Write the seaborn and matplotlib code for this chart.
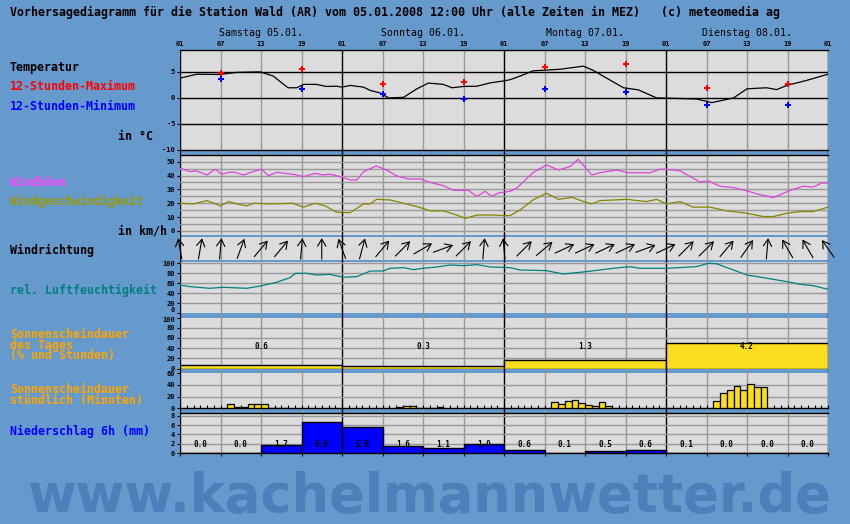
import matplotlib
matplotlib.use("Agg")
import matplotlib.pyplot as plt
import numpy as np
import pandas as pd
import seaborn as sns

# ---------------- data ----------------
title = ("Vorhersagediagramm für die Station Wald (AR) vom 05.01.2008 12:00 Uhr "
         "(alle Zeiten in MEZ)   (c) meteomedia ag")
day_labels = ["Samstag 05.01.", "Sonntag 06.01.", "Montag 07.01.", "Dienstag 08.01."]
hour_tick_labels = ["01", "07", "13", "19"] * 4 + ["01"]

# hours counted from Saturday 01:00
temp_hours = [0, 2.5, 5.9, 8.4, 11.85, 13.8, 16, 17.3, 18.3, 20.2, 21.7, 23.2, 24, 25.2,
              27.2, 28.2, 29.6, 30.9, 33.1, 35.1, 36.8, 39, 40.3, 42, 44, 46, 47.9, 48.9,
              50.4, 52.3, 56.3, 59.75, 61.2, 63.2, 65.7, 67.9, 70.6, 76.5, 78.8, 82, 84,
              86.9, 88.4, 89.9, 92.8, 96]
temp_values = [3.8, 4.55, 4.5, 4.9, 5.0, 4.2, 1.95, 1.95, 2.6, 2.6, 2.2, 2.25, 2.07, 2.4,
               2.07, 1.43, 0.98, 0.0, 0.1, 1.75, 2.85, 2.6, 1.95, 2.2, 2.25, 2.9, 3.25, 3.5,
               4.2, 5.2, 5.5, 6.1, 5.3, 3.8, 1.95, 1.55, 0.0, -0.2, -0.9, 0.0, 1.75,
               1.95, 1.6, 2.4, 3.35, 4.55]

extreme_hours = [6, 18, 30, 42, 54, 66, 78, 90]
tmax_12h = [4.7, 5.5, 2.7, 3.1, 5.85, 6.5, 1.95, 2.6]
tmin_12h = [3.7, 1.75, 0.8, -0.2, 1.75, 1.2, -1.4, -1.4]

gust_hours = [0, 1.5, 2.4, 4, 5.2, 6.2, 7.2, 8.1, 9.4, 10.9, 12.1, 13.1, 14.3, 15.6, 17.1,
              18.3, 20, 21.2, 22.2, 23.7, 25.2, 26.2, 27.2, 29.1, 30.6, 32.1, 33.8, 35.6,
              37.1, 39, 40.5, 42.7, 44, 45.2, 46.2, 47.2, 48.9, 49.9, 52.3, 54.3, 56.1,
              57.8, 59, 61, 62.2, 64.7, 66.4, 69.6, 71.1, 72.1, 74.1, 77, 78.3, 80, 82,
              84, 85.7, 87.9, 90.4, 92.3, 93.8, 95.1, 96]
gust_values = [45.2, 42.8, 43.3, 40.4, 44.5, 40.9, 42.3, 42.3, 40.4, 43, 44.5, 39.9, 42.3,
               41.6, 40.6, 39.2, 41.6, 40.4, 41, 39.2, 36.8, 36.8, 42.8, 46.9, 44, 39.7,
               37.5, 37.5, 35, 32.7, 29.3, 29.3, 25, 28.6, 25, 27.4, 28.6, 31, 42.1, 47.6,
               44, 46.5, 51.7, 40.4, 42, 44, 42, 42, 44.5, 44.5, 43.3, 35.4, 36.1, 32.3,
               31.3, 28.9, 26.5, 24.1, 29.3, 32.3, 31.7, 34.6, 34.6]

speed_hours = [0, 2, 4, 6, 7.2, 8.4, 9.9, 10.9, 13.3, 16.7, 18.3, 20, 21.5, 23.2, 25.2,
               27.2, 28.2, 29.1, 31.1, 33.1, 35.1, 37.1, 39, 41, 42.3, 44, 46.4, 47.9,
               48.9, 50.4, 52.3, 54.3, 56.1, 58.1, 59.8, 61, 62.2, 66.2, 69.1, 70.6, 72.1,
               74.1, 76, 78.5, 81, 84, 86.4, 87.9, 89.9, 91.9, 93.8, 96]
speed_values = [20, 19.5, 21.9, 18.1, 21.2, 19.5, 18.1, 20, 19.5, 20, 17.2, 20, 18.1, 13.5,
                13.2, 19.5, 19.5, 22.8, 22.4, 20, 17.6, 14.5, 14.5, 11.5, 9.1, 11.5, 11.5,
                11.1, 11.1, 15.2, 22.4, 27.2, 22.8, 24.3, 21.2, 19.5, 21.9, 22.8, 21.2,
                22.8, 19.5, 21.2, 17.2, 17.2, 14.5, 12.8, 10.4, 10.4, 12.8, 14, 14, 17.2]

dir_hours = list(range(0, 97, 3))
wind_dir_deg = [170, 190, 185, 200, 220, 220, 185, 180, 160, 195, 220, 225, 240, 250,
                225, 185, 175, 225, 230, 245, 245, 245, 245, 250, 245, 225, 225, 220,
                215, 185, 150, 150, 145]

rh_hours = [0, 1.5, 4.4, 6.4, 9.9, 11.9, 14.3, 16.3, 17.1, 18.8, 20.2, 22.2, 24.2, 26.2,
            28.2, 30.1, 31.1, 33.1, 34.6, 36, 38, 40, 42, 44, 46, 48.9, 50.4, 54.3, 56.8,
            60.2, 64.2, 66.7, 68.1, 72.1, 76.5, 78.3, 79.5, 82, 84, 87, 89.9, 91.9, 93.8, 96]
rh_values = [56.6, 53.3, 50, 52, 50, 54.6, 61.9, 71.3, 80, 80, 76.6, 78, 72, 73.3, 84.6,
             84.6, 90, 91.3, 87.3, 90, 92.6, 96.6, 95.3, 97.3, 92.6, 91.3, 86.6, 85.3,
             78.6, 83.3, 90, 93.3, 90, 90, 93.3, 100, 99, 86.6, 76.6, 70, 63.3, 58, 55.3, 48]

sun_day_centers = [12, 36, 60, 84]
sun_day_percent = [7, 4, 16, 50]
sun_day_hours = [0.6, 0.3, 1.3, 4.2]

sun_hour_centers = [7.5, 8.5, 9.5, 10.5, 11.5, 12.5, 13.5, 14.5, 15.5,
                    32.5, 33.5, 34.5, 35.5, 36.5, 37.5, 38.5,
                    55.5, 56.5, 57.5, 58.5, 59.5, 60.5, 61.5, 62.5, 63.5,
                    79.5, 80.5, 81.5, 82.5, 83.5, 84.5, 85.5, 86.5]
sun_hour_minutes = [7, 2, 3, 7, 7, 7, 1, 1, 1,
                    2, 4, 4, 1, 1, 1, 3,
                    10, 7, 12, 15, 8.5, 5, 3.5, 10, 3.5,
                    12, 26, 31, 39, 31, 41, 36, 36]

precip_centers = [3, 9, 15, 21, 27, 33, 39, 45, 51, 57, 63, 69, 75, 81, 87, 93]
precip_mm = [0.0, 0.0, 1.7, 6.6, 5.6, 1.6, 1.1, 1.9, 0.6, 0.1, 0.5, 0.6, 0.1, 0.0, 0.0, 0.0]

# ---------------- style ----------------
W, H = 850, 524
BG = "#6699cc"
PANEL = "#dcdcdc"
GRID = "#999999"
WM = "#4d7fba"
X0, X1 = 180, 828
MONO = "DejaVu Sans Mono"
plt.rcParams["font.family"] = [MONO]
plt.rcParams["font.weight"] = "bold"

fig = plt.figure(figsize=(W / 100, H / 100), dpi=100)
fig.patch.set_facecolor(BG)


def rect(top, bottom):
    return [X0 / W, 1 - bottom / H, (X1 - X0) / W, (bottom - top) / H]


# background frame in pixel-y coordinates
ax_bg = fig.add_axes(rect(50, 453.3))
ax_bg.set_xlim(0, 96)
ax_bg.set_ylim(453.3, 50)
ax_bg.set_facecolor(PANEL)
for s in ax_bg.spines.values():
    s.set_visible(False)
for t, b in [(150, 155), (235, 237.3), (260, 262), (313.3, 317.5), (368.5, 373.3), (408.3, 413.3)]:
    ax_bg.axhspan(b, t, color=BG, lw=0, zorder=1)
tick_pos = [6 * i for i in range(len(hour_tick_labels))]
for h in tick_pos:
    ax_bg.axvline(h, color="black" if h % 24 == 0 else GRID, lw=1.0, zorder=2)
ax_bg.set_yticks([])
ax_bg.xaxis.tick_top()
ax_bg.set_xticks(tick_pos)
ax_bg.set_xticklabels(hour_tick_labels)
ax_bg.tick_params(axis="x", length=0, pad=2.5, labelsize=5)
for i, d in enumerate(day_labels):
    ax_bg.text(12 + 24 * i, 33, d, ha="center", va="center", fontsize=7.1,
               fontweight="normal", clip_on=False)


def add_panel(top, bottom, ylim, yticks):
    ax = fig.add_axes(rect(top, bottom))
    ax.set_facecolor("none")
    for s in ax.spines.values():
        s.set_visible(False)
        s.set_color("black")
        s.set_linewidth(1.0)
    ax.set_xlim(0, 96)
    ax.set_ylim(*ylim)
    ax.set_yticks(yticks)
    ax.set_yticklabels([str(v) for v in yticks])
    ax.tick_params(axis="x", bottom=False, labelbottom=False)
    ax.tick_params(axis="y", length=2.5, width=0.8, pad=1, labelsize=5)
    return ax


def clean(ax):
    ax.set_xlabel("")
    ax.set_ylabel("")
    ax.set_xlim(0, 96)
    if ax.get_legend():
        ax.get_legend().remove()


# temperature
ax_t = add_panel(50, 150, (-10, 9.2), [-10, -5, 0, 5])
ax_t.spines["top"].set_visible(True)
ax_t.spines["bottom"].set_visible(True)
for v in [-5, 0, 5]:
    ax_t.axhline(v, color="black", lw=1.0, zorder=1)
sns.lineplot(x=temp_hours, y=temp_values, ax=ax_t, color="black", lw=0.9, estimator=None)
sns.scatterplot(x=extreme_hours, y=tmax_12h, ax=ax_t, color="#ff0000", marker="P", s=20,
                linewidth=0, zorder=5)
sns.scatterplot(x=extreme_hours, y=tmin_12h, ax=ax_t, color="#0000ff", marker="P", s=20,
                linewidth=0, zorder=5)
clean(ax_t)
ax_t.set_ylim(-10, 9.2)

# wind
ax_w = add_panel(155, 235, (-2.9, 54.8), [0, 10, 20, 30, 40, 50])
ax_w.spines["top"].set_visible(True)
for v in range(0, 55, 5):
    ax_w.axhline(v, color=GRID, lw=1.0, zorder=1)
sns.lineplot(x=gust_hours, y=gust_values, ax=ax_w, color="#dd44dd", lw=0.9, estimator=None)
sns.lineplot(x=speed_hours, y=speed_values, ax=ax_w, color="#858500", lw=0.9, estimator=None)
clean(ax_w)
ax_w.set_ylim(-2.9, 54.8)

# wind direction
d_top, d_bot = 237.3, 260
ax_d = add_panel(d_top, d_bot, (0, 1), [])
px_per_h = (X1 - X0) / 96
L = 21.0
for h, d in zip(dir_hours, wind_dir_deg):
    a = np.deg2rad(d - 180)
    dx = L * np.sin(a) / px_per_h
    dy = L * np.cos(a) / (d_bot - d_top)
    ax_d.annotate("", xy=(h + dx / 2, 0.5 + dy / 2), xytext=(h - dx / 2, 0.5 - dy / 2),
                  arrowprops=dict(arrowstyle="->,head_length=0.5,head_width=0.3",
                                  color="black", lw=0.8, shrinkA=0, shrinkB=0),
                  annotation_clip=False)

# humidity
ax_h = add_panel(262, 313.3, (0, 102.6), [0, 20, 40, 60, 80, 100])
for v in range(20, 101, 20):
    ax_h.axhline(v, color=GRID, lw=1.0, zorder=1)
sns.lineplot(x=rh_hours, y=rh_values, ax=ax_h, color="#008080", lw=0.9, estimator=None)
clean(ax_h)
ax_h.set_ylim(0, 102.6)
ax_h.get_yticklabels()[0].set_va("bottom")

# daily sunshine
ax_sd = add_panel(317.5, 368.5, (0, 100), [0, 20, 40, 60, 80, 100])
for v in range(20, 100, 20):
    ax_sd.axhline(v, color=GRID, lw=1.0, zorder=1)
sns.barplot(x=sun_day_centers, y=sun_day_percent, ax=ax_sd, native_scale=True, width=1,
            color="#f9dd1e", saturation=1, edgecolor="black", linewidth=1.0, errorbar=None,
            zorder=3)
for x, hrs in zip(sun_day_centers, sun_day_hours):
    ax_sd.text(x, 43, f"{hrs:.1f}", ha="center", va="center", fontsize=5.5, zorder=5)
clean(ax_sd)
ax_sd.set_ylim(0, 100)
ax_sd.get_yticklabels()[-1].set_va("top")

# hourly sunshine
ax_sh = add_panel(373.3, 408.3, (0, 60), [0, 20, 40, 60])
ax_sh.spines["bottom"].set_visible(True)
for v in [20, 40]:
    ax_sh.axhline(v, color=GRID, lw=1.0, zorder=1)
sns.barplot(x=sun_hour_centers, y=sun_hour_minutes, ax=ax_sh, native_scale=True, width=1,
            color="#f9dd1e", saturation=1, edgecolor="black", linewidth=0.9, errorbar=None,
            zorder=3)
clean(ax_sh)
ax_sh.set_ylim(0, 60)
ax_sh.set_xticks(np.arange(0, 97, 1))
ax_sh.tick_params(axis="x", bottom=True, labelbottom=False, direction="in", length=2,
                  width=0.8, color="black")

# precipitation
ax_p = add_panel(413.3, 453.3, (0, 8.5), [0, 2, 4, 6, 8])
ax_p.spines["top"].set_visible(True)
ax_p.spines["bottom"].set_visible(True)
for v in [2, 4, 6, 8]:
    ax_p.axhline(v, color=GRID, lw=1.0, zorder=1)
sns.barplot(x=precip_centers, y=precip_mm, ax=ax_p, native_scale=True, width=1,
            color="#0000ff", saturation=1, edgecolor="black", linewidth=1.0, errorbar=None,
            zorder=3)
for x, v in zip(precip_centers, precip_mm):
    ax_p.text(x, 1.8, f"{v:.1f}", ha="center", va="center", fontsize=5.5, zorder=5)
clean(ax_p)
ax_p.set_ylim(0, 8.5)
ax_p.set_xticks(np.arange(0, 97, 6))
ax_p.tick_params(axis="x", bottom=True, labelbottom=False, direction="out", length=2.5,
                 width=0.8, color="black")

# ---------------- texts ----------------
FS = 8.35


def ftext(x, y, s, color="black", **kw):
    fig.text(x / W, 1 - y / H, s, color=color, fontsize=FS, fontweight="bold",
             va="center", ha="left", **kw)


ftext(10, 12, title)
ftext(10, 67, "Temperatur")
ftext(10, 87, "12-Stunden-Maximum", "#ff0000")
ftext(10, 106, "12-Stunden-Minimum", "#0000ff")
ftext(118, 136, "in °C")
ftext(10, 182, "Windböen", "#ff44ff")
ftext(10, 201, "Windgeschwindigkeit", "#999900")
ftext(118, 231, "in km/h")
ftext(10, 250, "Windrichtung")
ftext(10, 290, "rel. Luftfeuchtigkeit", "#008080")
ftext(10, 345, "Sonnenscheindauer\ndes Tages\n(% und Stunden)", "#ffa500", linespacing=0.78)
ftext(10, 395, "Sonnenscheindauer\nstündlich (Minuten)", "#ffa500", linespacing=0.78)
ftext(10, 431, "Niederschlag 6h (mm)", "#0000ff")

fig.text(429 / W, 1 - 512 / H, "www.kachelmannwetter.de", fontsize=38, fontweight="bold",
         family="DejaVu Sans", color=WM, ha="center", va="baseline")

fig.savefig("out.png", dpi=100, facecolor=BG)
